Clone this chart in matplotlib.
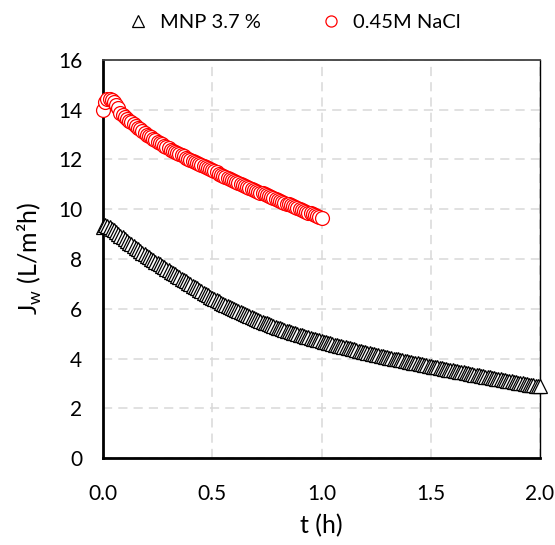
import numpy as np
import matplotlib
matplotlib.use("Agg")
import matplotlib.pyplot as plt

# water flux readings, one point every 0.01 h
t_mnp = np.round(np.arange(201) * 0.01, 2)
jw_mnp = [
    9.30, 9.35, 9.33, 9.28, 9.22, 9.15, 9.08, 9.01, 8.94, 8.87,
    8.80, 8.73, 8.66, 8.60, 8.53, 8.46, 8.39, 8.32, 8.26, 8.19,
    8.12, 8.06, 8.01, 7.95, 7.89, 7.84, 7.78, 7.72, 7.67, 7.61,
    7.55, 7.49, 7.44, 7.38, 7.32, 7.27, 7.21, 7.15, 7.10, 7.04,
    6.98, 6.93, 6.87, 6.82, 6.76, 6.71, 6.65, 6.60, 6.54, 6.49,
    6.43, 6.39, 6.34, 6.30, 6.25, 6.21, 6.16, 6.12, 6.07, 6.03,
    5.98, 5.94, 5.90, 5.86, 5.82, 5.78, 5.74, 5.70, 5.66, 5.62,
    5.58, 5.55, 5.51, 5.48, 5.44, 5.41, 5.38, 5.34, 5.31, 5.27,
    5.24, 5.21, 5.18, 5.15, 5.12, 5.09, 5.07, 5.04, 5.01, 4.98,
    4.95, 4.93, 4.90, 4.88, 4.85, 4.83, 4.80, 4.78, 4.75, 4.73,
    4.70, 4.68, 4.65, 4.63, 4.61, 4.59, 4.56, 4.54, 4.52, 4.49,
    4.47, 4.45, 4.43, 4.41, 4.39, 4.37, 4.34, 4.32, 4.30, 4.28,
    4.26, 4.24, 4.22, 4.20, 4.18, 4.16, 4.14, 4.12, 4.10, 4.08,
    4.06, 4.04, 4.02, 4.00, 3.98, 3.97, 3.95, 3.93, 3.91, 3.89,
    3.87, 3.85, 3.83, 3.82, 3.80, 3.78, 3.76, 3.74, 3.73, 3.71,
    3.69, 3.67, 3.66, 3.64, 3.62, 3.61, 3.59, 3.57, 3.55, 3.54,
    3.52, 3.50, 3.49, 3.47, 3.45, 3.44, 3.42, 3.40, 3.38, 3.37,
    3.35, 3.33, 3.32, 3.30, 3.29, 3.27, 3.25, 3.24, 3.22, 3.21,
    3.19, 3.17, 3.16, 3.14, 3.13, 3.11, 3.09, 3.08, 3.06, 3.05,
    3.03, 3.01, 3.00, 2.98, 2.97, 2.95, 2.94, 2.92, 2.91, 2.89,
    2.88,
]

t_nacl = np.round(np.arange(101) * 0.01, 2)
jw_nacl = [
    14.00, 14.30, 14.45, 14.42, 14.38, 14.30, 14.20, 14.08, 13.88, 13.80,
    13.72, 13.64, 13.56, 13.49, 13.42, 13.35, 13.28, 13.21, 13.14, 13.07,
    13.00, 12.94, 12.89, 12.83, 12.78, 12.72, 12.67, 12.61, 12.56, 12.50,
    12.45, 12.40, 12.36, 12.31, 12.26, 12.22, 12.17, 12.12, 12.07, 12.03,
    11.98, 11.94, 11.90, 11.85, 11.81, 11.77, 11.73, 11.69, 11.64, 11.60,
    11.56, 11.52, 11.48, 11.43, 11.39, 11.35, 11.31, 11.27, 11.22, 11.18,
    11.14, 11.10, 11.06, 11.02, 10.98, 10.95, 10.91, 10.87, 10.83, 10.79,
    10.75, 10.71, 10.67, 10.64, 10.60, 10.56, 10.52, 10.48, 10.45, 10.41,
    10.37, 10.33, 10.30, 10.26, 10.22, 10.19, 10.15, 10.11, 10.07, 10.04,
    10.00, 9.97, 9.93, 9.90, 9.86, 9.83, 9.79, 9.76, 9.72, 9.69,
    9.65,
]

labels = ["MNP 3.7 %", "0.45M NaCl"]
x_ticks = [0.0, 0.5, 1.0, 1.5, 2.0]
y_ticks = [0, 2, 4, 6, 8, 10, 12, 14, 16]

plt.rcParams["font.family"] = ["Lato", "DejaVu Sans"]

fig = plt.figure(figsize=(5.55, 5.45), dpi=100)
ax = fig.add_axes([0.1856, 0.1596, 0.7874, 0.7304])

ax.plot(t_mnp, jw_mnp, linestyle="none", marker="^", markersize=10,
        markerfacecolor="white", markeredgecolor="black", markeredgewidth=0.9,
        label=labels[0], clip_on=False, zorder=3)
ax.plot(t_nacl, jw_nacl, linestyle="none", marker="o", markersize=10,
        markerfacecolor="white", markeredgecolor="red", markeredgewidth=0.9,
        label=labels[1], clip_on=False, zorder=3)

ax.set_xlim(0, 2.0)
ax.set_ylim(0, 16)
ax.set_xticks(x_ticks)
ax.set_xticklabels([f"{v:.1f}" for v in x_ticks])
ax.set_yticks(y_ticks)
ax.tick_params(length=0, labelsize=15, colors="black")
ax.tick_params(axis="x", pad=19)
ax.tick_params(axis="y", pad=15)

ax.grid(True, color="#d9d9d9", linestyle=(0, (6, 4)), linewidth=1.1)
ax.set_axisbelow(True)

for side in ["left", "bottom"]:
    ax.spines[side].set_linewidth(2)
    ax.spines[side].set_color("black")
ax.spines["top"].set_linewidth(1.3)
ax.spines["top"].set_color("#404040")
ax.spines["right"].set_linewidth(1)
ax.spines["right"].set_color("black")

ax.set_xlabel("t (h)", fontsize=18, labelpad=7)
ax.set_ylabel("J$_{\\mathregular{w}}$ (L/m²h)", fontsize=18, labelpad=10)

leg = fig.legend(loc="center", bbox_to_anchor=(0.53, 0.958), ncol=2,
                 frameon=False, fontsize=14.5, handletextpad=0.6,
                 columnspacing=3.0, handlelength=1.0)
for h in leg.legend_handles:
    h.set_markersize(8)

fig.savefig("out.png", dpi=100)
